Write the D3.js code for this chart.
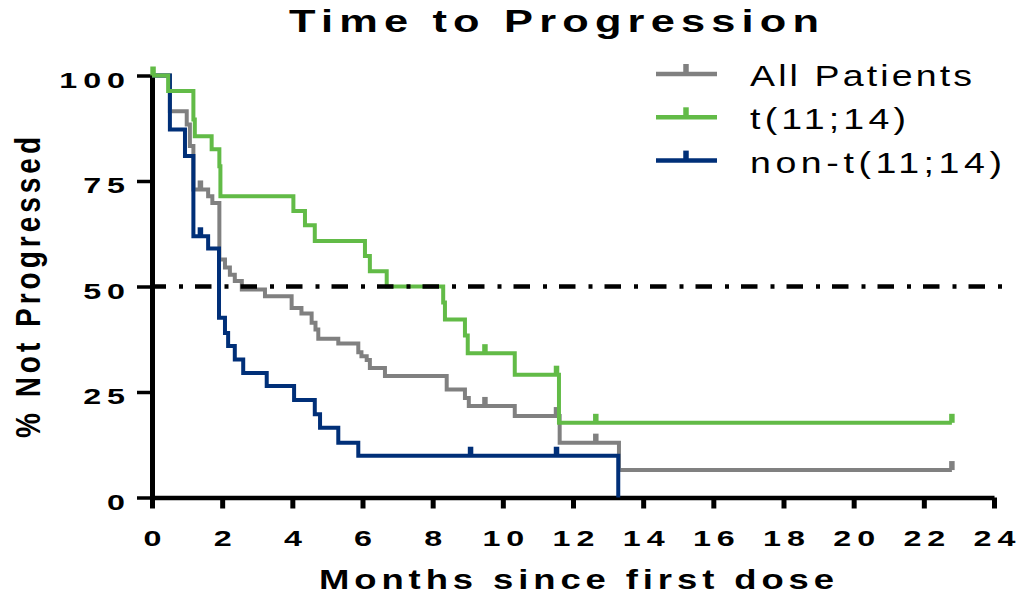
<!DOCTYPE html>
<html>
<head>
<meta charset="utf-8">
<script src="https://cdn.jsdelivr.net/npm/d3@7"></script>
<style>
  body { margin: 0; background: #fff; }
  text { font-family: "Liberation Sans", Arial, sans-serif; fill: #000; }
</style>
</head>
<body>
<div id="chart"></div>
<script>
// legend order
var seriesNames = ["All Patients", "t(11;14)", "non-t(11;14)"];
var seriesColors = ["#808080", "#62bb47", "#002f78"];

// Kaplan-Meier steps: [month, % not progressed after the drop]
var allSteps = [[0, 100], [0.51, 91.5], [0.99, 88.4], [1.08, 83.3], [1.18, 73.0], [1.6, 71.4], [1.72, 69.8],
  [1.92, 56.4], [2.08, 54.5], [2.22, 52.8], [2.36, 51.3], [2.56, 49.3], [3.22, 47.7], [3.98, 44.9],
  [4.26, 43.6], [4.55, 41.4], [4.66, 39.8], [4.74, 37.6], [5.31, 36.5], [5.88, 34.4], [5.97, 33.5],
  [6.12, 32.6], [6.21, 30.7], [6.64, 28.8], [8.40, 25.6], [8.92, 23.6], [9.03, 21.7], [10.34, 19.3],
  [11.62, 13.0], [13.31, 6.5]];
var allCensor = [1.38, 9.49, 11.53, 12.65, 22.8];
var allEnd = 22.8;

var t1114Steps = [[0, 100], [0.46, 96.3], [1.18, 89.6], [1.22, 85.6], [1.70, 82.5], [1.92, 78.5], [1.95, 71.4],
  [4.03, 67.9], [4.36, 64.5], [4.64, 60.8], [6.07, 57.2], [6.21, 53.6], [6.69, 50.0], [8.30, 46.2],
  [8.35, 42.2], [8.92, 38.4], [9.0, 34.2], [10.34, 29.1], [11.6, 17.7]];
var t1114Censor = [0.03, 9.49, 11.53, 12.65, 22.8];
var t1114End = 22.8;

var nonSteps = [[0, 100], [0.51, 87.2], [0.94, 80.9], [1.18, 61.9], [1.6, 59.0], [1.91, 42.6], [2.08, 39.0],
  [2.17, 35.9], [2.36, 32.7], [2.6, 29.5], [3.27, 26.4], [4.05, 23.1], [4.64, 19.7], [4.79, 16.5],
  [5.31, 13.0], [5.88, 9.9], [13.29, 0]];
var nonCensor = [1.38, 9.08, 11.53];
var nonEnd = 13.29;

var xTicks = [0, 2, 4, 6, 8, 10, 12, 14, 16, 18, 20, 22, 24];
var yTicks = [0, 25, 50, 75, 100];
var medianLine = 50;

var W = 1024, H = 595;
var svg = d3.select("#chart").append("svg").attr("width", W).attr("height", H);

var x = d3.scaleLinear().domain([0, 24]).range([152, 994]);
var y = d3.scaleLinear().domain([0, 100]).range([497.5, 75.5]);

function levelAt(steps, t) {
  var v = steps[0][1];
  steps.forEach(function(s) { if (s[0] <= t) v = s[1]; });
  return v;
}

function addText(str, left, baseline, fs, weight, sx, width) {
  return svg.append("text")
    .attr("transform", "translate(" + left + "," + baseline + ") scale(" + sx + ",1)")
    .attr("font-size", fs).attr("font-weight", weight)
    .attr("textLength", width / sx).attr("lengthAdjust", "spacing")
    .text(str);
}

// axes
var gx = svg.append("g").attr("transform", "translate(0," + y(0) + ")")
  .call(d3.axisBottom(x).tickValues(xTicks).tickSize(11).tickSizeOuter(0).tickPadding(0));
var gy = svg.append("g").attr("transform", "translate(" + x(0) + ",0)")
  .call(d3.axisLeft(y).tickValues(yTicks).tickSize(15).tickSizeOuter(0).tickPadding(0));

[gx, gy].forEach(function(g) { g.attr("font-family", null).attr("font-size", null); });
gx.select(".domain").attr("stroke", "#000").attr("stroke-width", 4.5);
gy.select(".domain").attr("stroke", "#000").attr("stroke-width", 5);
gx.selectAll(".tick line").attr("stroke", "#000").attr("stroke-width", 5);
gy.selectAll(".tick line").attr("stroke", "#000").attr("stroke-width", 3.5);

gx.selectAll(".tick text")
  .attr("font-size", 21.5).attr("font-weight", "bold").attr("fill", "#000")
  .attr("letter-spacing", 4).attr("dy", null).attr("y", 48.5).attr("x", 2)
  .attr("transform", "scale(1.5,1)");
gy.selectAll(".tick text")
  .attr("font-size", 21.5).attr("font-weight", "bold").attr("fill", "#000")
  .attr("letter-spacing", 4).attr("dy", null).attr("y", 11.5).attr("x", -14)
  .attr("transform", "scale(1.5,1)");

// curves (gray, navy, then green on top)
var line = d3.line().x(function(d) { return x(d[0]); }).y(function(d) { return y(d[1]); })
  .curve(d3.curveStepAfter);

var series = [
  { steps: allSteps, censor: allCensor, end: allEnd, color: seriesColors[0] },
  { steps: nonSteps, censor: nonCensor, end: nonEnd, color: seriesColors[2] },
  { steps: t1114Steps, censor: t1114Censor, end: t1114End, color: seriesColors[1] }
];

series.forEach(function(s) {
  var pts = s.steps.slice();
  var last = pts[pts.length - 1];
  if (last[0] < s.end) pts.push([s.end, last[1]]);
  svg.append("path").datum(pts)
    .attr("d", line)
    .attr("fill", "none")
    .attr("stroke", s.color)
    .attr("stroke-width", 4)
    .attr("stroke-linejoin", "miter");
  svg.selectAll(null).data(s.censor).enter().append("line")
    .attr("x1", function(t) { return x(t); })
    .attr("x2", function(t) { return x(t); })
    .attr("y1", function(t) { return y(levelAt(s.steps, t)); })
    .attr("y2", function(t) { return y(levelAt(s.steps, t)) - 9; })
    .attr("stroke", s.color)
    .attr("stroke-width", 5.5);
});

// median dash-dot line
svg.append("path").datum([[0, medianLine], [24.3, medianLine]])
  .attr("d", d3.line().x(function(d) { return x(d[0]); }).y(function(d) { return y(d[1]); }))
  .attr("fill", "none")
  .attr("stroke", "#000")
  .attr("stroke-width", 4.5)
  .attr("stroke-dasharray", "16.5,13,4,12")
  .attr("stroke-dashoffset", 2.5);

// legend
var legendWidths = [222, 156, 252];
seriesNames.forEach(function(name, i) {
  var ly = 74 + i * 43.3;
  svg.append("line").attr("x1", 656).attr("x2", 717).attr("y1", ly).attr("y2", ly)
    .attr("stroke", seriesColors[i]).attr("stroke-width", 4.5);
  svg.append("line").attr("x1", 686).attr("x2", 686).attr("y1", ly).attr("y2", ly - 10)
    .attr("stroke", seriesColors[i]).attr("stroke-width", 5.5);
  addText(name, 750, ly + 12, 30, "normal", 1.25, legendWidths[i]);
});

// titles
addText("Time to Progression", 289, 32, 31, "bold", 1.4, 530);
addText("Months since first dose", 319, 588.5, 27, "bold", 1.35, 515);
svg.append("text")
  .attr("transform", "translate(40,438) scale(1.25,1) rotate(-90)")
  .attr("font-size", 28).attr("font-weight", "bold")
  .attr("textLength", 301).attr("lengthAdjust", "spacing")
  .text("% Not Progressed");
</script>
</body>
</html>
